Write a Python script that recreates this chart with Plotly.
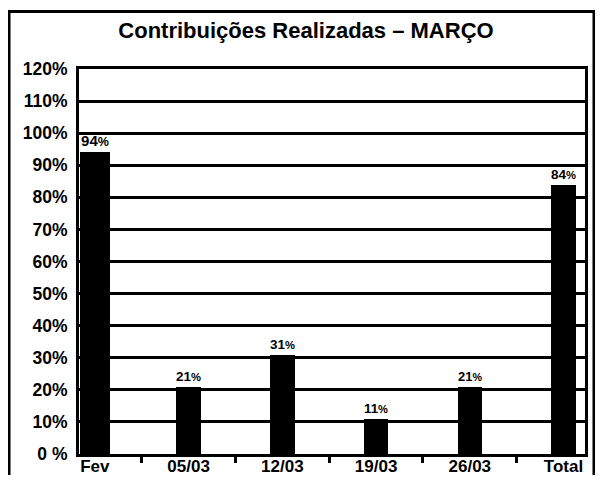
import plotly.graph_objects as go

categories = ["Fev", "05/03", "12/03", "19/03", "26/03", "Total"]
values = [94, 21, 31, 11, 21, 84]
y_tick_values = [0, 10, 20, 30, 40, 50, 60, 70, 80, 90, 100, 110, 120]
y_tick_labels = ["0 %", "10%", "20%", "30%", "40%", "50%", "60%", "70%", "80%",
                 "90%", "100%", "110%", "120%"]
title_text = "Contribuições Realizadas – MARÇO"

FONT = "Arial, Liberation Sans, sans-serif"

labels = [f"{v}<span style='font-size:12.5px'>%</span>" for v in values]

fig = go.Figure()
fig.add_trace(go.Bar(
    x=categories,
    y=values,
    width=[0.32, 0.26, 0.26, 0.26, 0.26, 0.26],
    marker=dict(color="black", line=dict(width=0)),
    text=labels,
    textposition="outside",
    cliponaxis=False,
    textfont=dict(family=FONT, size=15, color="black", weight="bold"),
    hoverinfo="skip",
))

# the page body adds an 8px margin, so the figure is sized to fit inside it
W, H = 587, 467
ml, mr, mt, mb = 71, 10, 61, 21
pw, ph = W - ml - mr, H - mt - mb

def px_x(x):
    return (x - ml) / pw

def px_y(y):
    return (H - mb - y) / ph

fig.update_layout(
    width=W, height=H,
    margin=dict(l=ml, r=mr, t=mt, b=mb, autoexpand=False),
    paper_bgcolor="white",
    plot_bgcolor="white",
    showlegend=False,
    bargap=0,
    title=dict(
        text=f"<b>{title_text}</b>",
        font=dict(family=FONT, size=22, color="black"),
        x=298 / W, xanchor="center", xref="container",
        y=1 - 22 / H, yanchor="middle", yref="container",
    ),
    xaxis=dict(
        type="category",
        range=[-0.169, 5.229],
        showgrid=False,
        showline=True, linecolor="black", linewidth=3, mirror=True,
        ticks="outside", tickson="boundaries", ticklen=6, tickwidth=2.5,
        tickcolor="black", ticklabelstandoff=-5,
        tickfont=dict(family=FONT, size=17, color="black", weight="bold"),
        fixedrange=True,
    ),
    yaxis=dict(
        range=[0, 120],
        tickvals=y_tick_values,
        ticktext=y_tick_labels,
        showgrid=True, gridcolor="black", gridwidth=2.5,
        showline=True, linecolor="black", linewidth=3, mirror=True,
        ticks="", ticklabelstandoff=5,
        tickfont=dict(family=FONT, size=17.5, color="black", weight="bold"),
        zeroline=False,
        fixedrange=True,
    ),
    shapes=[dict(
        type="rect", xref="paper", yref="paper",
        x0=px_x(1), x1=px_x(586), y0=px_y(490), y1=px_y(3.5),
        line=dict(color="black", width=3), fillcolor="rgba(0,0,0,0)",
        layer="below",
    )],
)

fig.write_html("out.html")
